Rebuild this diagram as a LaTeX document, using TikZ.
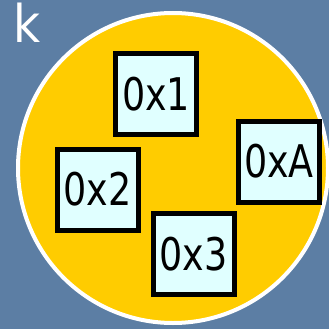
\documentclass[tikz,border=0pt]{standalone}
\usepackage{fontspec}
\newfontfamily\boxfont{DejaVu Sans Condensed}
\definecolor{bgblue}{RGB}{92,126,164}
\definecolor{disk}{RGB}{255,204,0}
\definecolor{cellfill}{RGB}{224,255,255}
\tikzset{
  cell/.style={draw=black, line width=5pt, fill=cellfill, minimum size=81pt, inner sep=0pt,
    font=\boxfont\fontsize{45}{45}\selectfont},
}
\begin{document}
\begin{tikzpicture}[x=1pt,y=-1pt]
\fill[bgblue] (0,0) rectangle (329,329);
\useasboundingbox (0,0) rectangle (329,329);
\node[circle, fill=disk, draw=white, line width=4pt, minimum size=310pt, inner sep=0pt] (disk) at (173,168) {};
\node[text=white, font=\boxfont\fontsize{52}{52}\selectfont, anchor=base west, inner sep=0pt] (k) at (13,43) {k};
\node[cell] (a) at (156,94) {\scalebox{0.9}[1]{0x1}};
\node[cell] (b) at (279,161.5) {\scalebox{0.9}[1]{0xA}};
\node[cell] (c) at (97.5,189.5) {\scalebox{0.9}[1]{0x2}};
\node[cell] (d) at (193.5,254) {\scalebox{0.9}[1]{0x3}};
\end{tikzpicture}
\end{document}
